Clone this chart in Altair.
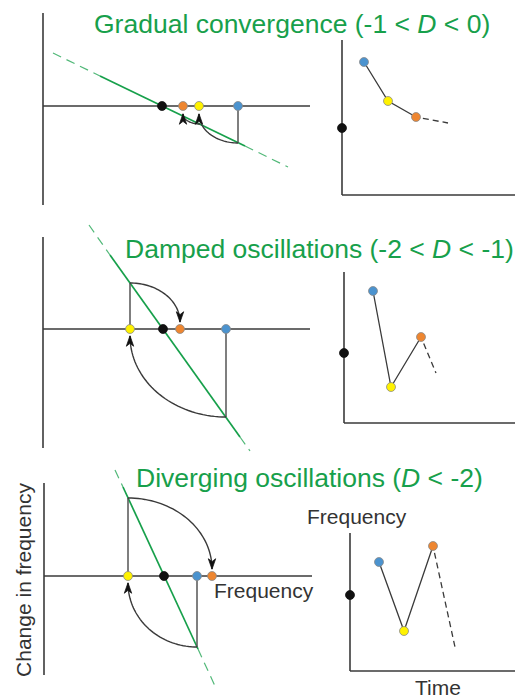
import altair as alt
import pandas as pd
import numpy as np

W, H = 515, 699
GREEN = "#17a04b"
INK = "#3a3a3a"
FONT = "Liberation Sans"
TITLE_SIZE = 26.5

# ---------------- data (figure units) ----------------
rows = ["gradual", "damped", "diverging"]

# cobweb panels (left)
cob_axis_x = [43, 43, 44]
cob_axis_top = [13, 237, 483]
cob_axis_bottom = [205, 448, 675]
cob_zero_y = [106, 329, 576]
cob_axis_right = [310, 310, 312]

# time panels (right)
ts_axis_x = [342, 344, 350]
ts_axis_top = [40, 272, 533]
ts_axis_bottom = [195, 423, 671]
ts_axis_right = [515, 515, 515]

# green response line: dashed start, solid start, solid end, dashed end
green_x = [[53, 100, 245, 288], [89, 110, 240, 250], [115, 123, 198, 215]]
green_y = [[53, 76, 146, 167], [225, 255, 437, 451], [470, 487, 649, 686]]

# point frequencies on the cobweb axis
cob_black_x = [162, 163, 164]
cob_blue_x = [238, 226, 197]
cob_yellow_x = [199, 130, 128]
cob_orange_x = [183, 180, 212]

# vertical steps to the response line
step_x = [238, 226, 130, 197, 128]
step_row = [0, 1, 1, 2, 2]
step_y_line = [143, 417, 283, 647, 498]

# arcs: start on the response line, end at arrow tip
arc_ax = [238, 200, 226, 130, 197, 128]
arc_ay = [143, 124, 417, 283, 647, 498]
arc_bx = [199, 183, 130, 180, 128, 212]
arc_by = [114, 114, 336, 322, 583, 569]

# time series: blue, yellow, orange, then the dashed continuation
ts_x = [[364, 388, 416, 448], [373, 391, 421, 436], [379, 404, 433, 455]]
ts_y = [[62, 101, 117, 123], [291, 387, 337, 373], [562, 631, 546, 647]]
ts_black_y = [128, 353, 595]

dot_colors = {"black": "#111111", "blue": "#4b93cf", "yellow": "#fff200", "orange": "#ee8630"}

# titles (prefix, italic D, suffix)
title_prefix = ["Gradual convergence (-1 < ", "Damped oscillations (-2 < ", "Diverging oscillations ("]
title_suffix = ["< 0)", "< -1)", "< -2)"]
title_x = [94, 125, 136]
title_y = [33, 258, 487]

# ---------------- text layout helper (Arial / Liberation Sans advance widths) ----------------
ADV = {" ": 278, "(": 333, ")": 333, "-": 333, "<": 584, "D": 722, "G": 778}
for ch in "0123456789":
    ADV[ch] = 556
for ch, w in zip("abcdefghijklmnopqrstuvwxyz",
                 [556, 556, 500, 556, 556, 278, 556, 556, 222, 222, 500, 222, 833,
                  556, 556, 556, 556, 333, 500, 278, 556, 500, 722, 500, 500, 500]):
    ADV[ch] = w

def text_width(s, size):
    return sum(ADV.get(ch, 556) for ch in s) * size / 1000.0

d_x = [x + text_width(p, TITLE_SIZE) for x, p in zip(title_x, title_prefix)]
suf_x = [x + text_width("D ", TITLE_SIZE) for x in d_x]

# ---------------- build tables ----------------
seg = []
def add_seg(x1, y1, x2, y2, kind):
    seg.append(dict(x=x1, y=y1, x2=x2, y2=y2, kind=kind))

for i in range(3):
    add_seg(cob_axis_x[i], cob_axis_top[i], cob_axis_x[i], cob_axis_bottom[i], "axis")
    add_seg(cob_axis_x[i], cob_zero_y[i], cob_axis_right[i], cob_zero_y[i], "axis")
    add_seg(ts_axis_x[i], ts_axis_top[i], ts_axis_x[i], ts_axis_bottom[i], "axis")
    add_seg(ts_axis_x[i], ts_axis_bottom[i], ts_axis_right[i], ts_axis_bottom[i], "axis")
    gx, gy = green_x[i], green_y[i]
    add_seg(gx[0], gy[0], gx[1], gy[1], "gdash")
    add_seg(gx[1], gy[1], gx[2], gy[2], "gsolid")
    add_seg(gx[2], gy[2], gx[3], gy[3], "gdash")
    x0, y0, x1, y1 = ts_x[i][2], ts_y[i][2], ts_x[i][3], ts_y[i][3]
    L = np.hypot(x1 - x0, y1 - y0)
    add_seg(x0 + (x1 - x0) * 7 / L, y0 + (y1 - y0) * 7 / L, x1, y1, "tdash")
for sx, sr, sy in zip(step_x, step_row, step_y_line):
    add_seg(sx, cob_zero_y[sr], sx, sy, "step")
seg = pd.DataFrame(seg)

ts_rows = []
for i in range(3):
    for k in range(3):
        ts_rows.append(dict(row=i, order=k, x=ts_x[i][k], y=ts_y[i][k]))
ts_df = pd.DataFrame(ts_rows)

# quarter-ellipse arcs and arrowheads
arc_rows, arrows = [], []
for j in range(len(arc_ax)):
    cx, cy = arc_ax[j], arc_by[j]
    dx, dy = arc_bx[j] - cx, arc_ay[j] - cy
    for t_i, t in enumerate(np.linspace(0, np.pi / 2, 40)):
        arc_rows.append(dict(arc=j, order=t_i, x=cx + dx * np.sin(t), y=cy + dy * np.cos(t)))
    up = dy > 0
    arrows.append(dict(x=arc_bx[j], y=arc_by[j] + (5 if up else -5),
                       shape="M0,-1L0.7,1L0,0.45L-0.7,1Z" if up else "M0,1L0.7,-1L0,-0.45L-0.7,-1Z"))
arc_df = pd.DataFrame(arc_rows)
arrow_df = pd.DataFrame(arrows)

dots = []
for i in range(3):
    z = cob_zero_y[i]
    dots += [dict(x=cob_black_x[i], y=z, c="black"), dict(x=cob_orange_x[i], y=z, c="orange"),
             dict(x=cob_yellow_x[i], y=z, c="yellow"), dict(x=cob_blue_x[i], y=z, c="blue"),
             dict(x=ts_axis_x[i], y=ts_black_y[i], c="black"),
             dict(x=ts_x[i][0], y=ts_y[i][0], c="blue"), dict(x=ts_x[i][1], y=ts_y[i][1], c="yellow"),
             dict(x=ts_x[i][2], y=ts_y[i][2], c="orange")]
dot_df = pd.DataFrame(dots)
dot_df["fill"] = dot_df["c"].map(dot_colors)
dot_df["stroke"] = np.where(dot_df["c"] == "black", "#111111", "#8a8a8a")

title_df = pd.DataFrame(dict(x=title_x, y=title_y, text=title_prefix))
d_df = pd.DataFrame(dict(x=d_x, y=title_y, text=["D"] * 3))
suf_df = pd.DataFrame(dict(x=suf_x, y=title_y, text=title_suffix))
label_df = pd.DataFrame(dict(x=[214, 307], y=[598, 524], text=["Frequency", "Frequency"]))
time_df = pd.DataFrame(dict(x=[438], y=[695], text=["Time"]))
ylab_df = pd.DataFrame(dict(x=[31], y=[580], text=["Change in frequency"]))

# ---------------- chart ----------------
X = alt.X("x:Q", scale=alt.Scale(domain=[0, W], range=[0, W], nice=False, zero=False), axis=None)
Y = alt.Y("y:Q", scale=alt.Scale(domain=[0, H], range=[0, H], nice=False, zero=False), axis=None)

def rules(kind, **kw):
    return alt.Chart(seg).transform_filter(alt.datum.kind == kind).mark_rule(**kw).encode(
        x=X, y=Y, x2="x2:Q", y2="y2:Q")

def texts(df, **kw):
    return alt.Chart(df).mark_text(font=FONT, **kw).encode(x=X, y=Y, text="text:N")

layers = [
    rules("gdash", color=GREEN, strokeWidth=1.2, strokeDash=[9, 6], opacity=0.75),
    rules("gsolid", color=GREEN, strokeWidth=1.7),
    rules("axis", color=INK, strokeWidth=1.6),
    rules("step", color="#555555", strokeWidth=1.5),
    rules("tdash", color=INK, strokeWidth=1.3, strokeDash=[6, 4]),
    alt.Chart(ts_df).mark_line(color=INK, strokeWidth=1.3).encode(x=X, y=Y, detail="row:N", order="order:Q"),
    alt.Chart(arc_df).mark_line(color=INK, strokeWidth=1.4).encode(x=X, y=Y, detail="arc:N", order="order:Q"),
    alt.Chart(dot_df).mark_circle(size=80, opacity=1, strokeWidth=0.8).encode(
        x=X, y=Y, fill=alt.Fill("fill:N", scale=None), stroke=alt.Stroke("stroke:N", scale=None)),
    alt.Chart(arrow_df).mark_point(filled=True, size=110, color="#111111", opacity=1,
                                   stroke="#111111", strokeWidth=0.8).encode(
        x=X, y=Y, shape=alt.Shape("shape:N", scale=None)),
    texts(title_df, align="left", baseline="alphabetic", fontSize=TITLE_SIZE, color=GREEN),
    texts(d_df, align="left", baseline="alphabetic", fontSize=TITLE_SIZE, fontStyle="italic", color=GREEN),
    texts(suf_df, align="left", baseline="alphabetic", fontSize=TITLE_SIZE, color=GREEN),
    texts(label_df, align="left", baseline="alphabetic", fontSize=21, color="#333333"),
    texts(time_df, align="center", baseline="alphabetic", fontSize=21, color="#333333"),
    texts(ylab_df, align="center", baseline="alphabetic", fontSize=21, angle=270, color="#333333"),
]

chart = alt.layer(*layers).properties(
    width=W, height=H, padding=0, autosize=alt.AutoSizeParams(type="none"),
    background="white",
).configure_view(stroke=None)

chart.save("out.html", embed_options={"renderer": "svg", "actions": False})
